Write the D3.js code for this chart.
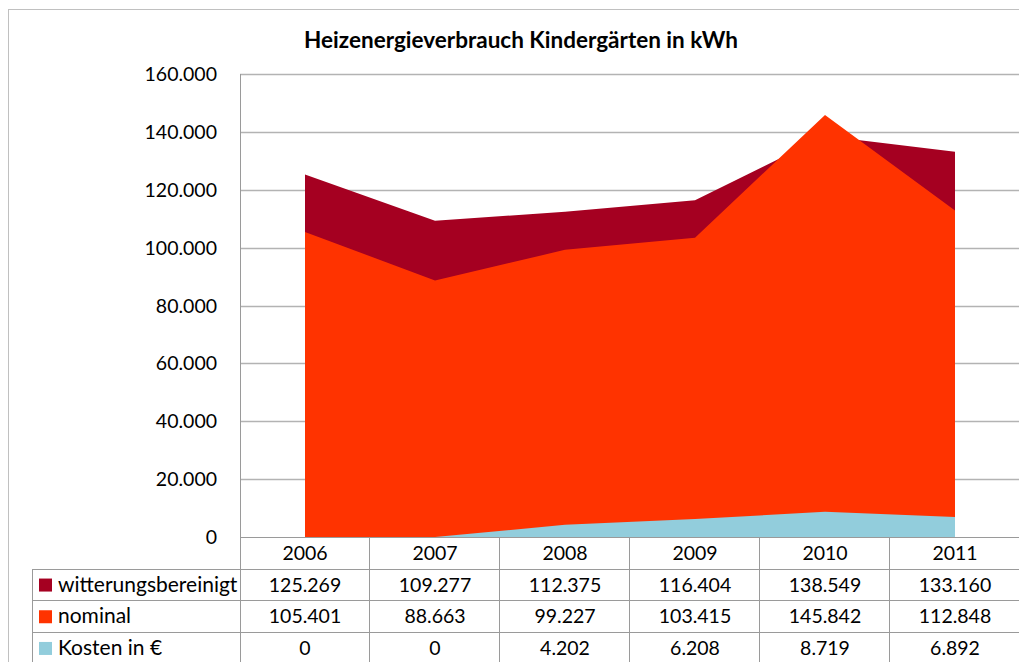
<!DOCTYPE html>
<html>
<head>
<meta charset="utf-8">
<script src="https://cdn.jsdelivr.net/npm/d3@7"></script>
<style>
  body { margin: 0; background: #fff; }
  svg { display: block; font-family: Lato, "Open Sans", sans-serif; }
</style>
</head>
<body>
<div id="chart"></div>
<script>
// data
const years = ["2006", "2007", "2008", "2009", "2010", "2011"];
const witterungsbereinigt = [125269, 109277, 112375, 116404, 138549, 133160];
const nominal = [105401, 88663, 99227, 103415, 145842, 112848];
const kosten = [0, 0, 4202, 6208, 8719, 6892];
const yTicks = [0, 20000, 40000, 60000, 80000, 100000, 120000, 140000, 160000];

const seriesList = [
  { name: "witterungsbereinigt", values: witterungsbereinigt, color: "#a50021" },
  { name: "nominal", values: nominal, color: "#ff3300" },
  { name: "Kosten in €", values: kosten, color: "#92cddc" }
];

const width = 1019, height = 662;
const plot = { left: 240, right: 1020, top: 74, bottom: 537 };
const rowH = 31.7;
const tableLeft = 32;

const de = d3.formatLocale({ decimal: ",", thousands: ".", grouping: [3], currency: ["", " €"] });
const fmt = de.format(",.0f");

const svg = d3.select("#chart").append("svg")
  .attr("width", width)
  .attr("height", height);

// outer chart border
svg.append("rect")
  .attr("x", 8.5).attr("y", 9.5)
  .attr("width", 1100).attr("height", 700)
  .attr("fill", "none").attr("stroke", "#c0c0c0");

const x = d3.scaleBand().domain(years).range([plot.left, plot.right]);
const y = d3.scaleLinear().domain([0, 160000]).range([plot.bottom, plot.top]);
const cx = (i) => x(years[i]) + x.bandwidth() / 2;

// title
svg.append("text")
  .attr("x", 521).attr("y", 48)
  .attr("text-anchor", "middle")
  .attr("font-size", 22.5).attr("font-weight", "bold")
  .attr("fill", "#000")
  .text("Heizenergieverbrauch Kindergärten in kWh");

// gridlines
svg.append("g")
  .selectAll("line")
  .data(yTicks.slice(1))
  .enter()
  .append("line")
  .attr("x1", plot.left).attr("x2", plot.right)
  .attr("y1", (d) => Math.round(y(d)) + 0.5)
  .attr("y2", (d) => Math.round(y(d)) + 0.5)
  .attr("stroke", "#b3b3b3").attr("stroke-width", 1.3);

// areas (overlapping, not stacked)
const area = d3.area()
  .x((d, i) => cx(i))
  .y0(y(0))
  .y1((d) => y(d));

svg.append("g")
  .selectAll("path")
  .data(seriesList)
  .enter()
  .append("path")
  .attr("d", (s) => area(s.values))
  .attr("fill", (s) => s.color);

// y axis labels
svg.append("g")
  .selectAll("text")
  .data(yTicks)
  .enter()
  .append("text")
  .attr("x", 217)
  .attr("y", (d) => y(d) + 7)
  .attr("text-anchor", "end")
  .attr("font-size", 19.5)
  .attr("fill", "#000")
  .text((d) => fmt(d));

// y axis line
svg.append("line")
  .attr("x1", plot.left + 0.5).attr("x2", plot.left + 0.5)
  .attr("y1", plot.top).attr("y2", height)
  .attr("stroke", "#9a9a9a");

// data table
const table = svg.append("g");
const lineColor = "#9a9a9a";

// header line (axis)
table.append("line")
  .attr("x1", plot.left).attr("x2", plot.right)
  .attr("y1", plot.bottom + 0.5).attr("y2", plot.bottom + 0.5)
  .attr("stroke", lineColor);

// row lines
[1, 2, 3].forEach((r) => {
  const yy = Math.round(plot.bottom + r * rowH) + 0.5;
  table.append("line")
    .attr("x1", tableLeft).attr("x2", plot.right)
    .attr("y1", yy).attr("y2", yy)
    .attr("stroke", lineColor);
});

// legend column left line
table.append("line")
  .attr("x1", tableLeft + 0.5).attr("x2", tableLeft + 0.5)
  .attr("y1", Math.round(plot.bottom + rowH)).attr("y2", height)
  .attr("stroke", lineColor);

// column lines
table.selectAll(".col")
  .data(years.slice(1))
  .enter()
  .append("line")
  .attr("x1", (d) => Math.round(x(d)) - 0.5)
  .attr("x2", (d) => Math.round(x(d)) - 0.5)
  .attr("y1", plot.bottom).attr("y2", height)
  .attr("stroke", lineColor);

// year labels
table.selectAll(".yr")
  .data(years)
  .enter()
  .append("text")
  .attr("x", (d, i) => cx(i))
  .attr("y", plot.bottom + rowH / 2 + 7)
  .attr("text-anchor", "middle")
  .attr("font-size", 19.5)
  .text((d) => d);

// series rows
seriesList.forEach((s, r) => {
  const top = plot.bottom + (r + 1) * rowH;
  table.append("rect")
    .attr("x", 39).attr("y", top + rowH / 2 - 6)
    .attr("width", 13).attr("height", 13)
    .attr("fill", s.color);
  table.append("text")
    .attr("x", 58).attr("y", top + rowH / 2 + 7)
    .attr("font-size", 21)
    .text(s.name);
  table.selectAll(null)
    .data(s.values)
    .enter()
    .append("text")
    .attr("x", (d, i) => cx(i))
    .attr("y", top + rowH / 2 + 7)
    .attr("text-anchor", "middle")
    .attr("font-size", 19.5)
    .text((d) => fmt(d));
});
</script>
</body>
</html>
